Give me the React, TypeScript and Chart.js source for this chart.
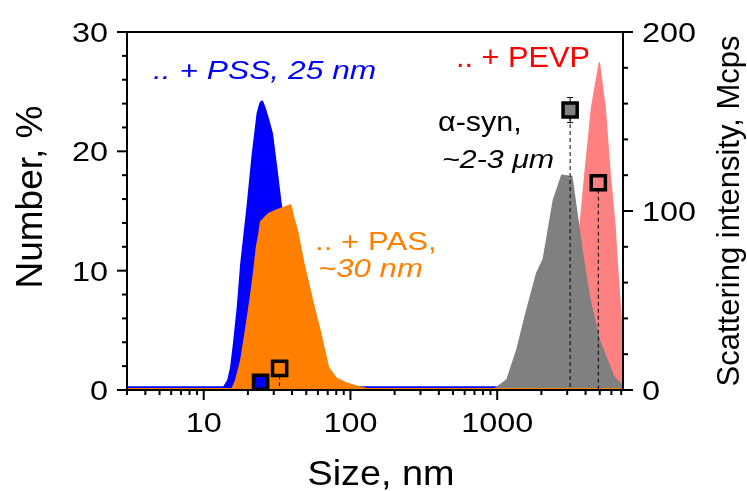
import { useEffect, useRef } from 'react';
import { Chart, registerables } from 'chart.js';

Chart.register(...registerables);

// ---------- data ----------
// Number distributions (left axis, %)
const pssSize = [3, 13.7, 14.6, 15.3, 16.0, 17.0, 17.9, 19.8, 21.4, 23.2, 24.3, 25.1, 26.2, 27.7, 29.3, 31.7, 33.4, 36, 40, 46, 53, 60, 70, 85, 100, 1000];
const pssNumber = [0.25, 0.25, 0.8, 1.9, 3.9, 7, 10.5, 15.4, 19.6, 23.2, 24.1, 24.2, 23.6, 22.6, 21.5, 18.2, 15.9, 13, 10, 6, 3, 1.5, 0.7, 0.3, 0.25, 0.25];

const pasSize = [3, 15.6, 16.5, 17.9, 19.0, 20.2, 21.2, 22.0, 22.9, 23.8, 24.4, 27.8, 31.8, 39.1, 40.9, 43.4, 48.1, 55.1, 62.5, 70.8, 80, 95, 113, 130, 7200];
const pasNumber = [0.1, 0.1, 0.8, 2.5, 4.5, 6.7, 8.5, 10.1, 12, 13.1, 14.1, 14.8, 15.1, 15.5, 14.5, 13.4, 10.6, 7.5, 4.8, 1.9, 1.0, 0.56, 0.28, 0.1, 0.1];

const synSize = [900, 990, 1164, 1361, 1592, 1862, 2065, 2415, 2757, 3140, 3223, 3860, 4295, 4966, 5630, 6240, 7200];
const synNumber = [0, 0.2, 0.84, 3.35, 6.7, 9.8, 11.0, 15.9, 18.0, 17.9, 17.9, 11.0, 7.5, 4.2, 2.5, 1.1, 0.3];

const pevpSize = [2800, 3100, 3515, 3667, 3970, 4405, 4966, 5433, 5873, 6354, 6530, 7050, 7200];
const pevpNumber = [0, 5, 11.2, 13.7, 18.2, 23.7, 27.4, 23.7, 18.2, 13.7, 11.2, 5.3, 3.5];

// Scattering intensity (right axis, Mcps) at the mean size
const intensitySize = [24.4, 32.9, 3140, 4887];
const intensityValue = [4.3, 12.1, 156.4, 115.8];
const synIntensityError = 7;

// ---------- ticks ----------
const sizeTicks = [10, 100, 1000];
const sizeMinorTicks = [3, 4, 5, 6, 7, 8, 9, 20, 30, 40, 50, 60, 70, 80, 90, 200, 300, 400, 500, 600, 700, 800, 900, 2000, 3000, 4000, 5000, 6000, 7000];
const numberTicks = [0, 10, 20, 30];
const numberMinorTicks = [2, 4, 6, 8, 12, 14, 16, 18, 22, 24, 26, 28];
const intensityTicks = [0, 100, 200];
const intensityMinorTicks = [20, 40, 60, 80, 120, 140, 160, 180];

const BLUE = 'rgb(0,0,255)';
const ORANGE = 'rgb(255,128,0)';
const GREY = 'rgb(128,128,128)';
const PINK = 'rgb(255,128,128)';
const RED = 'rgb(255,0,0)';
const FONT = '"Liberation Sans", Arial, sans-serif';

function drawText(ctx: CanvasRenderingContext2D, s: string, x: number, y: number, font: string, color: string, align: CanvasTextAlign, sx = 1, rot = 0) {
  ctx.save();
  ctx.translate(x, y);
  if (rot) ctx.rotate(rot);
  ctx.scale(sx, 1);
  ctx.font = font;
  ctx.fillStyle = color;
  ctx.textAlign = align;
  ctx.textBaseline = 'alphabetic';
  ctx.fillText(s, 0, 0);
  ctx.restore();
}

const overlay = {
  id: 'overlay',
  afterDraw(chart: any) {
    const { ctx, chartArea: a, scales } = chart;
    const sx = scales.x, sy = scales.y, sy2 = scales.y2;
    ctx.save();
    ctx.strokeStyle = '#000';
    ctx.lineWidth = 2;
    ctx.strokeRect(a.left, a.top, a.right - a.left, a.bottom - a.top);
    const seg = (x1: number, y1: number, x2: number, y2: number) => {
      ctx.beginPath(); ctx.moveTo(x1, y1); ctx.lineTo(x2, y2); ctx.stroke();
    };
    sizeTicks.forEach(v => { const p = sx.getPixelForValue(v); seg(p, a.bottom, p, a.bottom + 10); });
    sizeMinorTicks.forEach(v => { const p = sx.getPixelForValue(v); seg(p, a.bottom, p, a.bottom + 5); });
    numberTicks.forEach(v => { const p = sy.getPixelForValue(v); seg(a.left - 10, p, a.left, p); });
    numberMinorTicks.forEach(v => { const p = sy.getPixelForValue(v); seg(a.left - 5, p, a.left, p); });
    intensityTicks.forEach(v => { const p = sy2.getPixelForValue(v); seg(a.right, p, a.right + 10, p); });
    intensityMinorTicks.forEach(v => { const p = sy2.getPixelForValue(v); seg(a.right, p, a.right + 5, p); });

    const tickFont = `27px ${FONT}`;
    sizeTicks.forEach(v => drawText(ctx, String(v), sx.getPixelForValue(v), a.bottom + 42, tickFont, '#000', 'center', 1.2));
    numberTicks.forEach(v => drawText(ctx, String(v), a.left - 19, sy.getPixelForValue(v) + 10, tickFont, '#000', 'right', 1.2));
    intensityTicks.forEach(v => drawText(ctx, String(v), a.right + 19, sy2.getPixelForValue(v) + 10, tickFont, '#000', 'left', 1.2));

    drawText(ctx, 'Size, nm', (a.left + a.right) / 2 + 6, 485, `35px ${FONT}`, '#000', 'center', 1.08);
    drawText(ctx, 'Number, %', 42, (a.top + a.bottom) / 2 - 14, `37px ${FONT}`, '#000', 'center', 1, -Math.PI / 2);
    drawText(ctx, 'Scattering intensity, Mcps', 739, (a.top + a.bottom) / 2, `31px ${FONT}`, '#000', 'center', 1, -Math.PI / 2);

    drawText(ctx, '.. + PSS, 25 nm', 153, 79, `italic 25px ${FONT}`, BLUE, 'left', 1.27);
    drawText(ctx, '.. + PEVP', 456, 67, `29px ${FONT}`, RED, 'left', 1.06);
    drawText(ctx, 'α-syn,', 438, 131, `28px ${FONT}`, '#000', 'left', 1.09);
    drawText(ctx, '~2-3 μm', 442, 168, `italic 26px ${FONT}`, '#000', 'left', 1.17);
    drawText(ctx, '.. + PAS,', 315, 250, `26px ${FONT}`, ORANGE, 'left', 1.2);
    drawText(ctx, '~30 nm', 318, 277, `italic 26px ${FONT}`, ORANGE, 'left', 1.2);
    ctx.restore();
  },
};

function area(xs: number[], ys: number[], color: string, order: number) {
  return {
    type: 'line',
    data: xs.map((x, i) => ({ x, y: ys[i] })),
    yAxisID: 'y',
    borderColor: color,
    backgroundColor: color,
    borderWidth: 1.5,
    borderJoinStyle: 'round',
    fill: 'origin',
    pointRadius: 0,
    tension: 0,
    order,
  };
}

function square(i: number, fillColor: string) {
  return {
    type: 'line',
    data: [{ x: intensitySize[i], y: intensityValue[i] }],
    yAxisID: 'y2',
    showLine: false,
    pointStyle: 'rect',
    pointRadius: 10,
    pointBorderWidth: 3.5,
    pointBorderColor: '#000',
    pointBackgroundColor: fillColor,
    clip: false,
    order: 0,
  };
}

function dropLine(i: number) {
  return {
    type: 'line',
    data: [{ x: intensitySize[i], y: intensityValue[i] }, { x: intensitySize[i], y: 0 }],
    yAxisID: 'y2',
    borderColor: '#000',
    borderWidth: 1,
    borderDash: [4, 3],
    pointRadius: 0,
    fill: false,
    order: 1,
  };
}

export default function App() {
  const ref = useRef<HTMLCanvasElement>(null);
  useEffect(() => {
    if (!ref.current) return;
    const chart = new Chart(ref.current, {
      type: 'line',
      data: {
        datasets: [
          square(0, BLUE),
          square(1, ORANGE),
          square(2, GREY),
          square(3, PINK),
          {
            type: 'line',
            data: [
              { x: intensitySize[2], y: intensityValue[2] - synIntensityError },
              { x: intensitySize[2], y: intensityValue[2] + synIntensityError },
            ],
            yAxisID: 'y2',
            borderColor: '#000',
            borderWidth: 1,
            pointStyle: 'line',
            pointRadius: 3,
            pointBorderWidth: 1,
            pointBorderColor: '#000',
            fill: false,
            order: 1,
          },
          dropLine(1),
          dropLine(2),
          dropLine(3),
          area(pasSize, pasNumber, ORANGE, 2),
          area(synSize, synNumber, GREY, 3),
          area(pevpSize, pevpNumber, PINK, 4),
          area(pssSize, pssNumber, BLUE, 5),
        ] as any,
      },
      options: {
        animation: false,
        responsive: false,
        devicePixelRatio: 1,
        layout: { padding: { top: 32, left: 0, right: 0, bottom: 0 } },
        plugins: { legend: { display: false }, tooltip: { enabled: false } },
        scales: {
          x: {
            type: 'logarithmic', min: 3, max: 7200,
            grid: { display: false }, border: { display: false }, ticks: { display: false },
            afterFit: (s: any) => { s.height = 101; },
          },
          y: {
            type: 'linear', position: 'left', min: 0, max: 30,
            grid: { display: false }, border: { display: false }, ticks: { display: false },
            afterFit: (s: any) => { s.width = 127; },
          },
          y2: {
            type: 'linear', position: 'right', min: 0, max: 200,
            grid: { display: false }, border: { display: false }, ticks: { display: false },
            afterFit: (s: any) => { s.width = 124; },
          },
        },
      } as any,
      plugins: [overlay],
    });
    return () => chart.destroy();
  }, []);
  return (
    <div style={{ position: 'absolute', left: 0, top: 0, width: 747, height: 491, background: '#fff' }}>
      <canvas ref={ref} width={747} height={491} />
    </div>
  );
}
